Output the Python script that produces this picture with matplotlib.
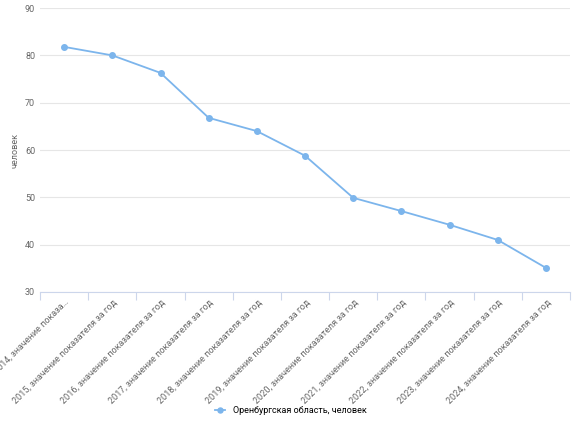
import matplotlib
matplotlib.use("Agg")
import matplotlib.pyplot as plt

years = [str(y) for y in range(2014, 2025)]
labels = [f"{y}, значение показателя за год" for y in years]
labels[0] = "2014, значение показа…"
values = [81.8, 80.0, 76.3, 66.8, 64.0, 58.8, 49.9, 47.1, 44.2, 41.0, 35.1]
series_name = "Оренбургская область, человек"

plt.rcParams['font.family'] = ['Roboto', 'DejaVu Sans']
fig = plt.figure(figsize=(5.81, 4.25), dpi=100)
ax = fig.add_axes([0.069, 0.313, 0.912, 0.668])
color = "#7cb5ec"
x = list(range(len(values)))
ax.plot(x, values, color=color, lw=1.3, marker='o', ms=4, label=series_name)
ax.set_xlim(-0.5, len(values) - 0.5)
ax.set_ylim(30, 90)
ax.set_yticks(range(30, 91, 10))
ax.set_xticks([i - 0.5 for i in range(len(values) + 1)], minor=False)
ax.set_xticklabels([])
ax.set_xticks(x, minor=True)
ax.set_xticklabels(labels, minor=True, rotation=45, ha='right', rotation_mode='anchor', fontsize=6.5, color='#666666')
ax.tick_params(axis='x', which='minor', length=0, pad=4)
ax.tick_params(axis='x', which='major', length=6, color='#ccd6eb')
ax.tick_params(axis='y', length=0, labelsize=6.5, labelcolor='#666666')
ax.grid(axis='y', color='#e6e6e6', lw=0.8)
for s in ['top', 'right', 'left']:
    ax.spines[s].set_visible(False)
ax.spines['bottom'].set_color('#ccd6eb')
ax.set_ylabel("человек", fontsize=6.5, color='#666666')
fig.legend(loc='lower center', bbox_to_anchor=(0.5, 0.005), frameon=False, fontsize=6.5, handlelength=1.2, markerscale=0.9)
fig.savefig("out.png", dpi=100)
